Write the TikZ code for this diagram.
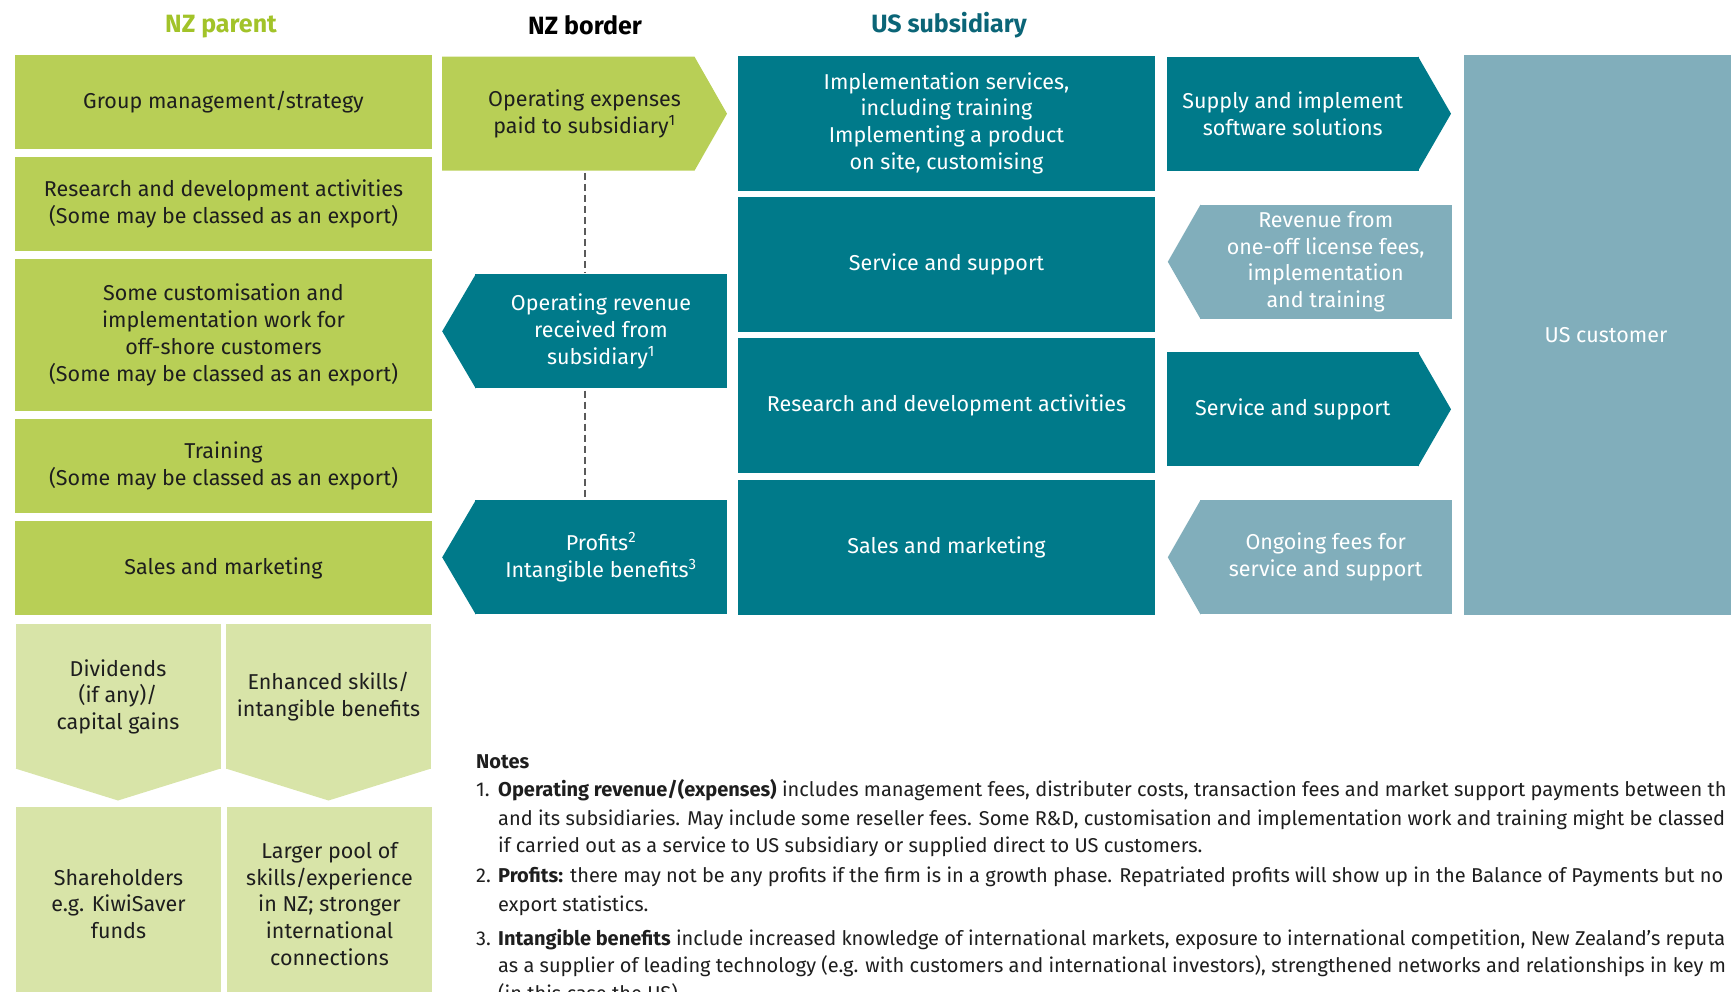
\documentclass[tikz,border=0pt]{standalone}
\usepackage{fontspec}
\setmainfont{Fira Sans}
\usetikzlibrary{calc}

\definecolor{nzgreen}{HTML}{B8CF56}
\definecolor{nzpale}{HTML}{D8E4A8}
\definecolor{nzhead}{HTML}{A2C329}
\definecolor{usteal}{HTML}{007A8A}
\definecolor{uspale}{HTML}{81AEBB}
\definecolor{ushead}{HTML}{0B6577}
\definecolor{inktext}{HTML}{1E1E1E}
\definecolor{borderline}{HTML}{5A5A5A}

\begin{document}
\begin{tikzpicture}[%
    x=1pt,
    y=-1pt,
    heading/.style={
      inner sep=0pt,
      font=\fontsize{25}{28}\selectfont\bfseries
    },
    nzblock/.style={
      rectangle,
      fill=nzgreen,
      text=inktext,
      align=center,
      inner sep=0pt,
      minimum width=417pt,
      minimum height=94pt,
      font=\fontsize{21.5}{26.8}\selectfont
    },
    usblock/.style={
      rectangle,
      fill=usteal,
      text=white,
      align=center,
      inner sep=0pt,
      minimum width=417pt,
      minimum height=134.7pt,
      font=\fontsize{21.5}{26.8}\selectfont
    },
    flow/.style={
      rectangle,
      fill=#1,
      text=white,
      align=center,
      inner sep=0pt,
      minimum width=252pt,
      minimum height=114pt,
      font=\fontsize{21.5}{26.8}\selectfont
    },
    gain/.style={
      rectangle,
      fill=nzpale,
      text=inktext,
      align=center,
      inner sep=0pt,
      minimum width=205pt,
      font=\fontsize{21.5}{26.8}\selectfont
    },
    note/.style={
      anchor=base west,
      inner sep=0pt,
      text=inktext,
      font=\fontsize{20}{28}\selectfont
    },
    border/.style={
      draw=borderline,
      line width=2pt,
      dash pattern=on 7pt off 4pt,
      shorten <=2pt,
      shorten >=2pt
    },
  ]
    \useasboundingbox (0,0) rectangle (1731,992);
    \clip (0,0) rectangle (1731,992);

    % column headings
    \node[heading, text=nzhead] (nzparent) at (221,26.5) {NZ parent};
    \node[heading, text=black] (nzborder) at (585,25.5) {NZ border};
    \node[heading, text=ushead] (ussub) at (949,25.5) {US subsidiary};

    % NZ parent
    \node[nzblock] (mgmt) at (223.5,102) {Group management/strategy};
    \node[nzblock] (rnd) at (223.5,204) {Research and development activities\\(Some may be classed as an export)};
    \node[nzblock, minimum height=152pt] (custom) at (223.5,335) {Some customisation and\\implementation work for\\off-shore customers\\(Some may be classed as an export)};
    \node[nzblock] (train) at (223.5,466) {Training\\(Some may be classed as an export)};
    \node[nzblock] (sales) at (223.5,568) {Sales and marketing};

    \node[gain, minimum height=145pt] (divid) at (118,696.8) {Dividends\\(if any)/\\capital gains};
    \node[gain, minimum height=145pt] (skills) at (328.5,696.8) {Enhanced skills/\\intangible benefits};
    \fill[nzpale] ([yshift=1pt]divid.south west) -- ($(divid.south)+(0,31)$) -- ([yshift=1pt]divid.south east) -- cycle;
    \fill[nzpale] ([yshift=1pt]skills.south west) -- ($(skills.south)+(0,31)$) -- ([yshift=1pt]skills.south east) -- cycle;
    \node[gain, minimum height=194pt] (holders) at (118.5,904) {Shareholders\\e.g. KiwiSaver\\funds};
    \node[gain, minimum height=194pt] (pool) at (329.5,904) {Larger pool of\\skills/experience\\in NZ; stronger\\international\\connections};

    % NZ border
    \node[flow=none, text=inktext, minimum width=285pt,
      path picture={\fill[nzgreen] (path picture bounding box.north west)
        -- ([xshift=-32.5pt]path picture bounding box.north east)
        -- (path picture bounding box.east)
        -- ([xshift=-32.5pt]path picture bounding box.south east)
        -- (path picture bounding box.south west) -- cycle;}]
      (opex) at (584.5,113.7) {Operating expenses\\paid to subsidiary\textsuperscript{1}};
    \node[flow=usteal] (rev) at (601,331.3) {Operating revenue\\received from\\subsidiary\textsuperscript{1}};
    \node[flow=usteal] (prof) at (601,557.3) {Profits\textsuperscript{2}\\Intangible benefits\textsuperscript{3}};
    \fill[usteal] ([xshift=1pt]rev.north west) -- ($(rev.west)+(-32.6,0)$) -- ([xshift=1pt]rev.south west) -- cycle;
    \fill[usteal] ([xshift=1pt]prof.north west) -- ($(prof.west)+(-32.6,0)$) -- ([xshift=1pt]prof.south west) -- cycle;
    \draw[border] (opex.south) -- (opex.south |- rev.north);
    \draw[border] (opex.south |- rev.south) -- (opex.south |- prof.north);

    % US subsidiary
    \node[usblock] (impl) at (946.5,123.3) {Implementation services,\\including training\\Implementing a product\\on site, customising};
    \node[usblock] (support) at (946.5,264.3) {Service and support};
    \node[usblock] (usrnd) at (946.5,405.3) {Research and development activities};
    \node[usblock] (ussales) at (946.5,547.3) {Sales and marketing};

    \node[flow=usteal] (supply) at (1292.8,113.7) {Supply and implement\\software solutions};
    \node[flow=uspale] (licence) at (1325.7,261.8) {Revenue from\\one-off license fees,\\implementation\\and training};
    \node[flow=usteal] (service) at (1292.8,409.3) {Service and support};
    \node[flow=uspale] (fees) at (1325.7,557.3) {Ongoing fees for\\service and support};
    \fill[usteal] ([xshift=-1pt]supply.north east) -- ($(supply.east)+(32,0)$) -- ([xshift=-1pt]supply.south east) -- cycle;
    \fill[usteal] ([xshift=-1pt]service.north east) -- ($(service.east)+(32,0)$) -- ([xshift=-1pt]service.south east) -- cycle;
    \fill[uspale] ([xshift=1pt]licence.north west) -- ($(licence.west)+(-31.7,0)$) -- ([xshift=1pt]licence.south west) -- cycle;
    \fill[uspale] ([xshift=1pt]fees.north west) -- ($(fees.west)+(-31.7,0)$) -- ([xshift=1pt]fees.south west) -- cycle;

    \node[rectangle, fill=uspale, text=white, inner sep=0pt, minimum width=284pt, minimum height=560pt,
      font=\fontsize{21.5}{26.8}\selectfont] (customer) at (1606,335) {US customer};

    % notes
    \node[note, font=\fontsize{20}{28}\selectfont\bfseries] (notes) at (476,768.3) {Notes};
    \node[note] (n1) at (476,796.7) {1.};
    \node[note] (n1a) at (498,796.7) {\textbf{Operating revenue/(expenses)} includes management fees, distributer costs, transaction fees and market support payments between th};
    \node[note] (n1b) at (498,825) {and its subsidiaries. May include some reseller fees. Some R\&D, customisation and implementation work and training might be classed a};
    \node[note] (n1c) at (498,852.7) {if carried out as a service to US subsidiary or supplied direct to US customers.};
    \node[note] (n2) at (476,882.7) {2.};
    \node[note] (n2a) at (498,882.7) {\textbf{Profits:} there may not be any profits if the firm is in a growth phase. Repatriated profits will show up in the Balance of Payments but no};
    \node[note] (n2b) at (498,911.7) {export statistics.};
    \node[note] (n3) at (476,945) {3.};
    \node[note] (n3a) at (498,945) {\textbf{Intangible benefits} include increased knowledge of international markets, exposure to international competition, New Zealand’s reputa};
    \node[note] (n3b) at (498,972.7) {as a supplier of leading technology (e.g. with customers and international investors), strengthened networks and relationships in key m};
    \node[note] (n3c) at (498,1000.7) {(in this case the US).};
  \end{tikzpicture}
\end{document}
